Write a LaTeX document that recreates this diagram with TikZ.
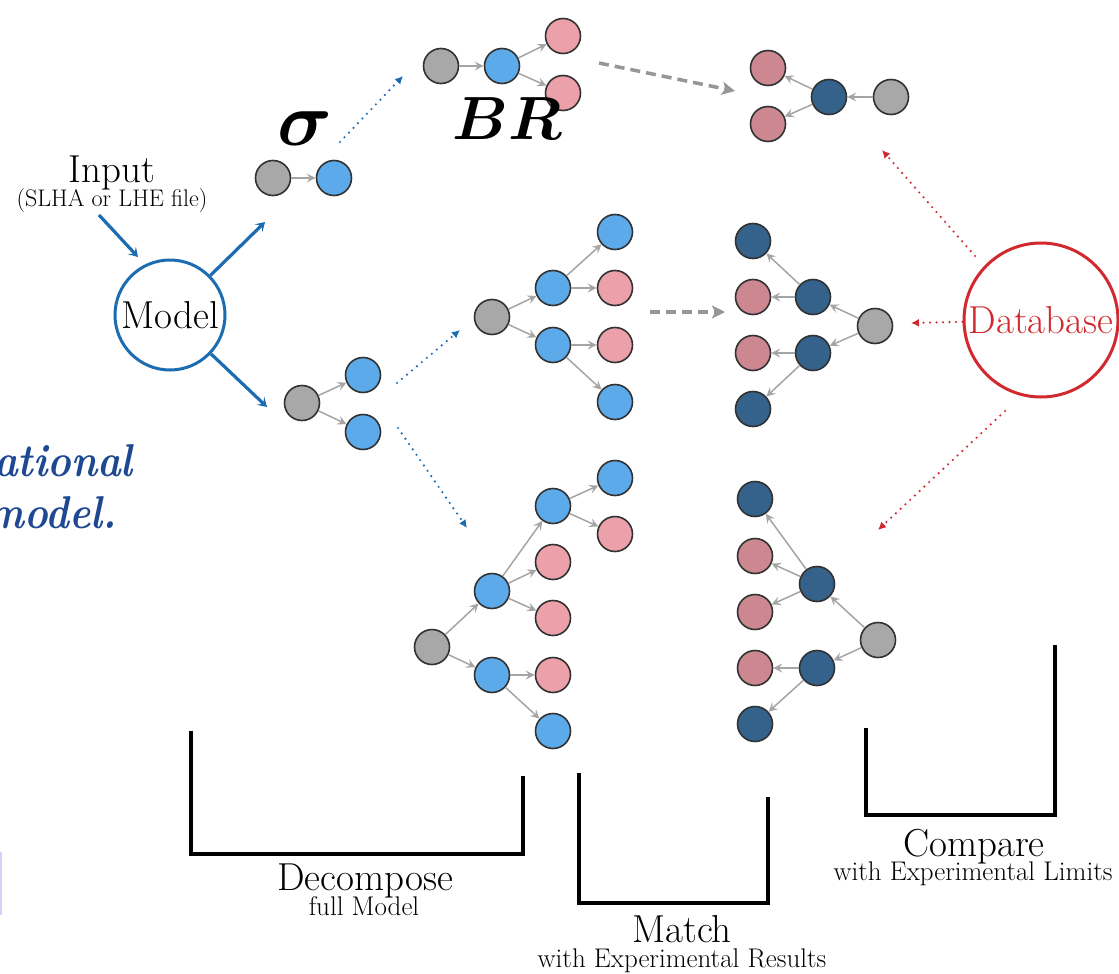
\documentclass[tikz,border=0pt]{standalone}
\usepackage{graphicx}
\usetikzlibrary{arrows.meta}

\definecolor{modelblue}{RGB}{28,108,178}
\definecolor{dbred}{RGB}{208,42,48}
\definecolor{greyfill}{RGB}{168,168,168}
\definecolor{lightblue}{RGB}{92,170,234}
\definecolor{rosefill}{RGB}{236,160,170}
\definecolor{mauvefill}{RGB}{204,135,145}
\definecolor{navyfill}{RGB}{52,98,138}
\definecolor{rimgrey}{RGB}{50,50,50}
\definecolor{edgegrey}{RGB}{165,165,165}
\definecolor{dashgrey}{RGB}{150,150,150}
\definecolor{titleblue}{RGB}{30,72,145}
\definecolor{barlilac}{RGB}{218,206,248}

\newcommand\vstretch[2]{\scalebox{1}[#1]{#2}}

\tikzset{
  ptcl/.style={circle, draw=rimgrey, line width=1.6pt, minimum size=35pt, inner sep=0pt},
  gr/.style={ptcl, fill=greyfill},
  bl/.style={ptcl, fill=lightblue},
  pk/.style={ptcl, fill=rosefill},
  mv/.style={ptcl, fill=mauvefill},
  nv/.style={ptcl, fill=navyfill},
  decay/.style={draw=edgegrey, line width=1.5pt, -{Stealth[length=9pt,width=9pt,inset=3.5pt]}},
  flow/.style={draw=modelblue, line width=3.2pt, -{Stealth[length=9pt,width=11pt,inset=4pt]}},
  dotblue/.style={draw=modelblue, line width=2.4pt, dash pattern=on 0pt off 6.5pt, line cap=round,
    -{Latex[length=8pt,width=8pt]}},
  dotred/.style={draw=dbred, line width=2.4pt, dash pattern=on 0pt off 6.5pt, line cap=round,
    -{Latex[length=8pt,width=8pt]}},
  dashmove/.style={draw=dashgrey, line width=3.5pt, dash pattern=on 10pt off 6pt,
    -{Stealth[length=13pt,width=13pt,inset=3pt]}},
  bracketline/.style={draw=black, line width=3.5pt},
  bigtext/.style={font=\fontsize{39}{42}\selectfont, inner sep=0pt},
  smalltext/.style={font=\fontsize{27}{30}\selectfont, inner sep=0pt},
}

\begin{document}
\begin{tikzpicture}[x=1pt, y=-1pt]
\path[use as bounding box, fill=white] (0,0) rectangle (1119,974);

% cut-off heading on the left
\node[anchor=base east, inner sep=0pt, text=titleblue,
      font=\fontsize{40}{44}\selectfont\bfseries\itshape] (h1) at (133,476) {\vstretch{1.15}{ational}};
\node[anchor=base east, inner sep=0pt, text=titleblue,
      font=\fontsize{40}{44}\selectfont\bfseries\itshape] (h2) at (117,528) {\vstretch{1.15}{model.}};
\fill[barlilac] (0,852) rectangle (1.5,915);

% input and model
\node[bigtext, anchor=base] (inp) at (112,182) {Input};
\node[inner sep=0pt, anchor=base, font=\fontsize{24}{26}\selectfont] (inpsub) at (112,206) {(SLHA or LHE file)};
\node[circle, draw=modelblue, line width=3pt, minimum size=110pt, inner sep=0pt,
      font=\fontsize{39}{42}\selectfont] (model) at (170,315) {Model};

% database
\node[circle, draw=dbred, line width=3pt, minimum size=154pt, inner sep=0pt, text=dbred,
      font=\fontsize{39}{42}\selectfont] (db) at (1041,320) {Database};

% production: sigma
\node[gr] (s0) at (273,178) {};
\node[bl] (s1) at (334,178) {};
\draw[decay] (s0) -- (s1);

% production: pair
\node[gr] (p0) at (302,403) {};
\node[bl] (p1) at (363,375) {};
\node[bl] (p2) at (363,432) {};
\draw[decay] (p0) -- (p1);
\draw[decay] (p0) -- (p2);

% branching ratio step
\node[gr] (b0) at (441,66) {};
\node[bl] (b1) at (502,66) {};
\node[pk] (b2) at (563,36) {};
\node[pk] (b3) at (563,93) {};
\draw[decay] (b0) -- (b1);
\draw[decay] (b1) -- (b2);
\draw[decay] (b1) -- (b3);

% matched topology, top
\node[gr] (r0) at (891,97) {};
\node[nv] (r1) at (829,97) {};
\node[mv] (r2) at (768,68) {};
\node[mv] (r3) at (768,124) {};
\draw[decay] (r0) -- (r1);
\draw[decay] (r1) -- (r2);
\draw[decay] (r1) -- (r3);

% decomposed element, middle
\node[gr] (m0) at (492,317) {};
\node[bl] (m1) at (553,288) {};
\node[bl] (m2) at (553,345) {};
\node[bl] (m3) at (615,232) {};
\node[pk] (m4) at (615,288) {};
\node[pk] (m5) at (615,345) {};
\node[bl] (m6) at (615,402) {};
\draw[decay] (m0) -- (m1);
\draw[decay] (m0) -- (m2);
\draw[decay] (m1) -- (m3);
\draw[decay] (m1) -- (m4);
\draw[decay] (m2) -- (m5);
\draw[decay] (m2) -- (m6);

% matched topology, middle
\node[gr] (n0) at (875,326) {};
\node[nv] (n1) at (813,297) {};
\node[nv] (n2) at (813,353) {};
\node[nv] (n3) at (753,241) {};
\node[mv] (n4) at (753,297) {};
\node[mv] (n5) at (753,353) {};
\node[nv] (n6) at (753,409) {};
\draw[decay] (n0) -- (n1);
\draw[decay] (n0) -- (n2);
\draw[decay] (n1) -- (n3);
\draw[decay] (n1) -- (n4);
\draw[decay] (n2) -- (n5);
\draw[decay] (n2) -- (n6);

% decomposed element, bottom
\node[gr] (d0) at (432,647) {};
\node[bl] (d1) at (492,591) {};
\node[bl] (d2) at (492,675) {};
\node[bl] (d3) at (553,506) {};
\node[pk] (d4) at (553,562) {};
\node[pk] (d5) at (553,618) {};
\node[pk] (d6) at (553,675) {};
\node[bl] (d7) at (553,731) {};
\node[bl] (d8) at (615,478) {};
\node[pk] (d9) at (615,534) {};
\draw[decay] (d0) -- (d1);
\draw[decay] (d0) -- (d2);
\draw[decay] (d1) -- (d3);
\draw[decay] (d1) -- (d4);
\draw[decay] (d1) -- (d5);
\draw[decay] (d2) -- (d6);
\draw[decay] (d2) -- (d7);
\draw[decay] (d3) -- (d8);
\draw[decay] (d3) -- (d9);

% matched topology, bottom
\node[gr] (e0) at (878,640) {};
\node[nv] (e1) at (817,584) {};
\node[nv] (e2) at (817,668) {};
\node[nv] (e3) at (755,499) {};
\node[mv] (e4) at (755,556) {};
\node[mv] (e5) at (755,612) {};
\node[mv] (e6) at (755,668) {};
\node[nv] (e7) at (755,724) {};
\draw[decay] (e0) -- (e1);
\draw[decay] (e0) -- (e2);
\draw[decay] (e1) -- (e3);
\draw[decay] (e1) -- (e4);
\draw[decay] (e1) -- (e5);
\draw[decay] (e2) -- (e6);
\draw[decay] (e2) -- (e7);

% symbols (bold math, scaled up from 10pt)
\node[anchor=base, inner sep=0pt] (sig) at (305,145) {\scalebox{7.6}{\boldmath$\sigma$}};
\node[anchor=base, inner sep=0pt] (br) at (507,139) {\scalebox{6.1}{\boldmath$BR$}};

% flow arrows out of the model
\coordinate (inA) at (99,215);
\coordinate (inB) at (138,257);
\coordinate (upEnd) at (265,222);
\coordinate (lowEnd) at (267,407);
\draw[flow] (inA) -- (inB);
\draw[flow] (model) -- (upEnd);
\draw[flow] (model) -- (lowEnd);

% dotted blue steps
\coordinate (q1a) at (340,142); \coordinate (q1b) at (403,76);
\coordinate (q2a) at (397,383); \coordinate (q2b) at (460,330);
\coordinate (q3a) at (398,428); \coordinate (q3b) at (467,528);
\draw[dotblue] (q1a) -- (q1b);
\draw[dotblue] (q2a) -- (q2b);
\draw[dotblue] (q3a) -- (q3b);

% dotted red lookups from the database
\coordinate (t1a) at (975,256); \coordinate (t1b) at (882,150);
\coordinate (t2b) at (911,323);
\coordinate (t3a) at (1005,411); \coordinate (t3b) at (878,530);
\draw[dotred] (t1a) -- (t1b);
\draw[dotred] (db) -- (t2b);
\draw[dotred] (t3a) -- (t3b);

% dashed matching arrows
\coordinate (g1a) at (599,63); \coordinate (g1b) at (735,91);
\coordinate (g2a) at (650,312); \coordinate (g2b) at (725,312);
\draw[dashmove] (g1a) -- (g1b);
\draw[dashmove] (g2a) -- (g2b);

% stage brackets
\draw[bracketline] (191,731) |- (523,854) -- (523,776);
\draw[bracketline] (579,773) |- (768,903) -- (768,797);
\draw[bracketline] (866,728) |- (1055,815) -- (1055,645);

% stage labels
\node[bigtext, anchor=base] (lDec) at (365,890) {Decompose};
\node[smalltext, anchor=base] (sDec) at (364,915) {full Model};
\node[bigtext, anchor=base] (lMat) at (682,942) {Match};
\node[smalltext, anchor=base] (sMat) at (682,967) {with Experimental Results};
\node[bigtext, anchor=base] (lCmp) at (974,856) {Compare};
\node[smalltext, anchor=base] (sCmp) at (973,880) {with Experimental Limits};
\end{tikzpicture}
\end{document}
